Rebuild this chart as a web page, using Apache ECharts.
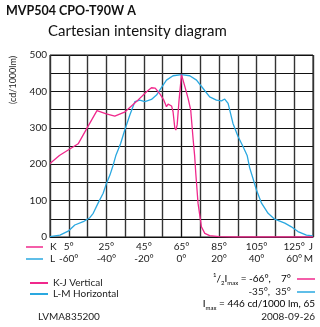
<!DOCTYPE html>
<html>
<head>
<meta charset="utf-8">
<script src="https://cdn.jsdelivr.net/npm/echarts@6/dist/echarts.min.js"></script>
<style>
  html, body { margin: 0; padding: 0; background: #fff; }
  #chart { width: 320px; height: 327px; }
</style>
</head>
<body>
<div id="chart"></div>
<script>
// Angles along the L-M plane (deg); the K-J scale is the same axis shifted by 65°
const kjAngles = [-70, -65, -55, -50, -45, -40, -35.5, -30, -24, -18.6, -16, -14, -11.5, -9.4, -8, -7.1, -5.3, -4.5, -3.6, -3, -2.3, -1.3, 0, 1.8, 3.5, 4.9, 6.2, 7, 7.6, 8.8, 10.6, 12.4, 15, 20, 30, 70];
const kjValues = [202, 224, 256, 302, 347, 338, 332, 344, 372, 399, 410, 409, 393, 376, 358, 365, 360, 344, 301, 294, 308, 376, 446, 413, 381, 349, 268, 223, 175, 93, 28, 10, 4, 1, 0, 0];

const lmAngles = [-70, -64.7, -60.3, -56.8, -52.3, -48.8, -47, -44.4, -41.7, -39.9, -38.1, -36.4, -35, -32.4, -30.2, -27.5, -24.8, -22.2, -19.5, -16, -13.3, -11.5, -8, -4.5, 0, 4.4, 8, 11.5, 15, 18.6, 21.3, 23, 24.8, 27.4, 30.1, 32.8, 35, 36.3, 38.1, 39.9, 42.6, 46.1, 49.6, 55, 58.5, 62, 66.5, 70];
const lmValues = [1, 5, 16, 33, 42, 53, 65, 93, 120, 148, 170, 197, 223, 257, 294, 335, 372, 376, 372, 378, 390, 404, 431, 443, 446, 443, 431, 408, 385, 376, 374, 379, 367, 312, 276, 248, 223, 190, 160, 129, 93, 65, 49, 38, 28, 15, 5, 3];

const kOffset = 65;
const yTicks = [0, 100, 200, 300, 400, 500];

const PINK = '#f0288c';
const BLUE = '#2aa8e0';
const FONT = 'Lato, "Liberation Sans", sans-serif';

const pair = (xs, ys) => xs.map((x, i) => [x, ys[i]]);

const chart = echarts.init(document.getElementById('chart'), null, { renderer: 'canvas' });

const halfRich = {
  n: { fontSize: 10, fontFamily: FONT, color: '#222', lineHeight: 14 },
  s1: { fontSize: 6, fontFamily: FONT, color: '#222', verticalAlign: 'top' },
  s2: { fontSize: 6, fontFamily: FONT, color: '#222', verticalAlign: 'bottom' }
};

chart.setOption({
  animation: false,
  textStyle: { fontFamily: FONT },
  grid: { left: 50, top: 55, right: 7, bottom: 90, show: true, borderColor: '#111', borderWidth: 1 },
  xAxis: [
    {
      type: 'value', min: -70, max: 70, interval: 10,
      axisLine: { show: true, lineStyle: { color: '#111', width: 1 } },
      axisTick: { show: false },
      splitLine: { show: true, lineStyle: { color: '#333', width: 1.4 } },
      axisLabel: {
        margin: 5, fontSize: 10, color: '#222', showMinLabel: true, showMaxLabel: true,
        alignMinLabel: 'left', alignMaxLabel: 'right',
        formatter: v => v === -70 ? 'K' : v === 70 ? 'J' : ((v + kOffset) % 20 === 5 ? (v + kOffset) + '°' : '')
      }
    },
    {
      type: 'value', min: -70, max: 70, interval: 10, position: 'bottom', offset: 12,
      axisLine: { show: false }, axisTick: { show: false }, splitLine: { show: false },
      axisLabel: {
        margin: 5, fontSize: 10, color: '#222', showMinLabel: true, showMaxLabel: true,
        alignMinLabel: 'left', alignMaxLabel: 'right',
        formatter: v => v === -70 ? 'L' : v === 70 ? 'M' : (v % 20 === 0 ? v + '°' : '')
      }
    }
  ],
  yAxis: {
    type: 'value', min: 0, max: 500, interval: 50,
    axisLine: { show: true, lineStyle: { color: '#111' } },
    axisTick: { show: false },
    splitLine: { show: true, lineStyle: { color: '#111', width: 1 } },
    axisLabel: {
      margin: 3, fontSize: 10, color: '#222',
      formatter: v => yTicks.includes(v) ? String(v) : ''
    }
  },
  legend: {
    orient: 'vertical', left: 25, top: 273, itemWidth: 18, itemHeight: 2, itemGap: 1,
    icon: 'rect', textStyle: { fontSize: 10, color: '#222' },
    data: ['K-J Vertical', 'L-M Horizontal']
  },
  series: [
    {
      name: 'K-J Vertical', type: 'line', xAxisIndex: 0, data: pair(kjAngles, kjValues),
      showSymbol: false, symbol: 'none', lineStyle: { color: PINK, width: 1.3 }, itemStyle: { color: PINK }, z: 4
    },
    {
      name: 'L-M Horizontal', type: 'line', xAxisIndex: 0, data: pair(lmAngles, lmValues),
      showSymbol: false, symbol: 'none', lineStyle: { color: BLUE, width: 1.3 }, itemStyle: { color: BLUE }, z: 3
    }
  ],
  graphic: [
    { type: 'text', left: 6, top: 4, style: { text: 'MVP504 CPO-T90W A', fontSize: 12.5, fontWeight: 'bold', fontFamily: FONT, fill: '#111' } },
    { type: 'text', left: 48, top: 24, style: { text: 'Cartesian intensity diagram', fontSize: 15, fontFamily: FONT, fill: '#111' } },
    { type: 'text', x: 13, y: 80, rotation: Math.PI / 2, style: { text: '(cd/1000lm)', fontSize: 9, fontFamily: FONT, fill: '#222', align: 'center', verticalAlign: 'middle' } },
    { type: 'line', shape: { x1: 26, y1: 247, x2: 43, y2: 247 }, style: { stroke: PINK, lineWidth: 1.5 } },
    { type: 'line', shape: { x1: 26, y1: 259, x2: 43, y2: 259 }, style: { stroke: BLUE, lineWidth: 1.5 } },
    { type: 'text', x: 291, y: 279, style: { text: '{s1|1}{n|/}{s2|2}{n|I}{s2|max}{n| = -66°,    7°}', rich: halfRich, align: 'right', verticalAlign: 'middle' } },
    { type: 'text', x: 291, y: 292, style: { text: '-35°,  35°', fontSize: 10, fontFamily: FONT, fill: '#222', align: 'right', verticalAlign: 'middle' } },
    { type: 'line', shape: { x1: 297, y1: 279, x2: 315, y2: 279 }, style: { stroke: PINK, lineWidth: 1.5 } },
    { type: 'line', shape: { x1: 297, y1: 292, x2: 315, y2: 292 }, style: { stroke: BLUE, lineWidth: 1.5 } },
    { type: 'text', x: 315, y: 304, style: { text: '{n|I}{s2|max}{n| = 446 cd/1000 lm, 65}', rich: halfRich, align: 'right', verticalAlign: 'middle' } },
    { type: 'text', x: 38, y: 317, style: { text: 'LVMA835200', fontSize: 10, fontFamily: FONT, fill: '#222', verticalAlign: 'middle' } },
    { type: 'text', x: 315, y: 317, style: { text: '2008-09-26', fontSize: 10, fontFamily: FONT, fill: '#222', align: 'right', verticalAlign: 'middle' } }
  ]
});
</script>
</body>
</html>
